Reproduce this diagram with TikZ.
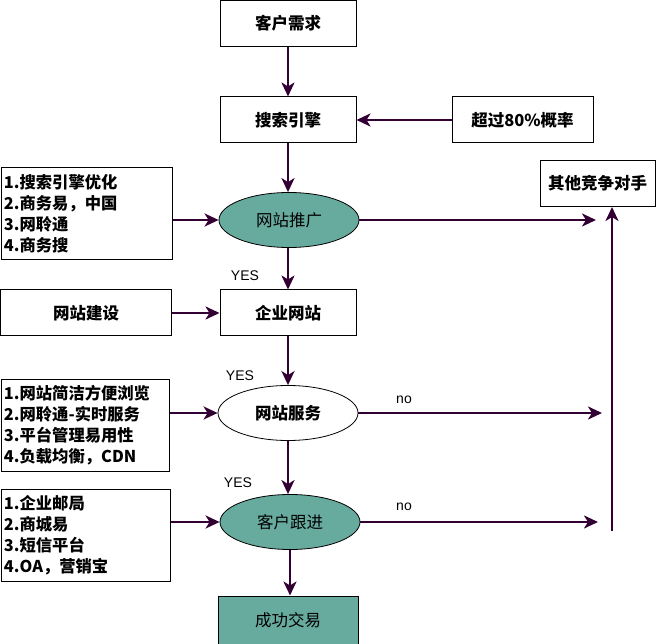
\documentclass[tikz,border=0pt]{standalone}
\usepackage{fontspec}
\setmainfont{Liberation Sans}
\newfontfamily\cjk{Noto Sans CJK SC}
\usetikzlibrary{arrows.meta,shapes.geometric}
\definecolor{arr}{RGB}{51,0,51}
\definecolor{teal1}{RGB}{103,171,159}
\begin{document}
\begin{tikzpicture}[x=1pt,y=-1pt,
  box/.style={draw=black,line width=1pt,minimum width=136pt,minimum height=46pt,font=\cjk\bfseries\fontsize{16.5}{18}\selectfont,inner sep=0pt},
  lbox/.style={draw=black,line width=1pt,anchor=north west,inner sep=0pt,text width=#1,align=left,font=\cjk\bfseries\fontsize{16.3}{21}\selectfont},
  ell/.style={ellipse,draw=black,line width=0.8pt,minimum width=140pt,minimum height=55pt,inner sep=0pt,font=\cjk\fontsize{16.5}{18}\selectfont},
  con/.style={draw=arr,line width=2.6pt,-{Stealth[length=14pt,width=13pt,inset=4pt]}},
  lab/.style={font=\fontsize{14}{16}\selectfont,inner sep=0pt}]
\useasboundingbox (0,0) rectangle (656,644);
\node[box] (xq) at (288,23.5) {客户需求};
\node[box] (ss) at (288,120) {搜索引擎};
\node[box,minimum width=141pt] (gl) at (522.5,120) {超过80\%概率};
\node[ell,fill=teal1] (tg) at (289,220) {网站推广};
\node[box,minimum width=115pt,minimum height=46pt] (qt) at (597.5,183.5) {其他竞争对手};
\node[lbox=171pt,minimum height=92pt,minimum width=171pt] (l1) at (0.5,167.5) {\hspace*{3pt}1.搜索引擎优化\\\hspace*{3pt}2.商务易，中国\\\hspace*{3pt}3.网聆通\\\hspace*{3pt}4.商务搜};
\node[box,minimum width=171pt] (jsh) at (86,313) {网站建设};
\node[box] (qy) at (288,313) {企业网站};
\node[lbox=168pt,minimum height=92pt,minimum width=168pt] (l2) at (0.5,378.5) {\hspace*{3pt}1.网站简洁方便浏览\\\hspace*{3pt}2.网聆通-实时服务\\\hspace*{3pt}3.平台管理易用性\\\hspace*{3pt}4.负载均衡，CDN};
\node[ell,fill=white] (fw) at (288,413) {\bfseries 网站服务};
\node[lbox=169pt,minimum height=92pt,minimum width=169pt] (l3) at (0.5,488.5) {\hspace*{3pt}1.企业邮局\\\hspace*{3pt}2.商城易\\\hspace*{3pt}3.短信平台\\\hspace*{3pt}4.OA，营销宝};
\node[ell,fill=teal1] (gj) at (290,522) {客户跟进};
\node[box,fill=teal1,minimum width=140pt,minimum height=48pt,font=\cjk\fontsize{16.5}{18}\selectfont] (cg) at (288,620) {成功交易};
\coordinate (e1) at (596,220);
\coordinate (e2) at (602,413);
\coordinate (e3) at (598,522);
\coordinate (vb) at (612,531);
\node[lab] (y1) at (245,276) {YES};
\node[lab] (y2) at (240,376) {YES};
\node[lab] (y3) at (238,483) {YES};
\node[lab] (n1) at (404,400) {no};
\node[lab] (n2) at (404,507) {no};
\draw[con] (xq.south) -- (ss.north);
\draw[con] (gl.west) -- (ss.east);
\draw[con] (ss.south) -- (ss.south |- tg.north);
\draw[con] (l1.east |- tg) -- (tg.west);
\draw[con] (tg.east) -- (e1);
\draw[con] (tg.south -| qy) -- (qy.north);
\draw[con] (jsh.east) -- (qy.west);
\draw[con] (qy.south) -- (qy.south |- fw.north);
\draw[con] (l2.east |- fw) -- (fw.west);
\draw[con] (fw.east) -- (e2);
\draw[con] (fw.south) -- (fw.south |- gj.north);
\draw[con] (l3.east |- gj) -- (gj.west);
\draw[con] (gj.east) -- (e3);
\draw[con] (gj.south) -- (gj.south |- cg.north);
\draw[con] (vb) -- (vb |- qt.south);
\end{tikzpicture}
\end{document}
